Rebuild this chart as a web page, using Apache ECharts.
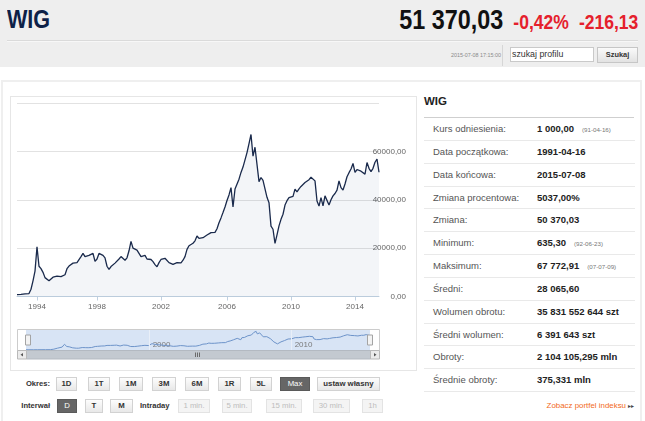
<!DOCTYPE html>
<html>
<head>
<meta charset="utf-8">
<script src="https://cdn.jsdelivr.net/npm/echarts@6/dist/echarts.min.js"></script>
<style>
html,body{margin:0;padding:0;background:#fff;}
body{width:645px;height:421px;overflow:hidden;position:relative;font-family:"Liberation Sans",Arial,sans-serif;color:#333;}
.a{position:absolute;white-space:nowrap;}
#hdr{left:0;top:0;width:645px;height:67px;background:#eeeeee;}
#title{left:7px;top:4px;font-size:26px;font-weight:bold;color:#0d2147;transform:scaleX(0.83);transform-origin:left top;}
#quote{right:7px;top:4px;transform:scaleX(0.835);transform-origin:right top;font-weight:bold;display:flex;align-items:baseline;}
#quote .p{font-size:28px;color:#111;}
#quote .r{font-size:21px;color:#e5202c;margin-left:12px;}
#sep{left:7px;top:40px;width:631px;height:0;border-top:1px solid #dadada;border-bottom:1px solid #f7f7f7;}
#dt{left:451px;top:52px;font-size:5.4px;color:#8a8a8a;}
#vsep{left:502px;top:45px;width:0;height:21px;border-left:1px solid #d6d6d6;}
#inp{left:510px;top:47px;width:84px;height:15px;box-sizing:border-box;background:#fff;border:1px solid #c9c9c9;font-size:8.8px;line-height:13px;padding-left:1px;color:#333;}
#sbtn{left:597px;top:47px;width:41px;height:16px;box-sizing:border-box;background:linear-gradient(#fafafa,#e2e2e2);border:1px solid #c6c6c6;font-size:7.4px;font-weight:bold;text-align:center;line-height:14px;color:#333;}
#panel{left:1px;top:80px;width:641px;height:360px;box-sizing:border-box;border:2px solid #efefef;}
#cbox{left:10px;top:96px;width:407px;height:275px;box-sizing:border-box;border:1px solid #e6e6e6;}
#chart{left:10px;top:96px;width:407px;height:275px;}
.lbl{font-size:7.6px;font-weight:bold;color:#333;}
.btn{height:14px;box-sizing:border-box;border:1px solid #d2d2d2;background:linear-gradient(#fdfdfd,#e8e8e8);font-size:7.8px;font-weight:bold;color:#333;text-align:center;line-height:12px;}
.on{background:#666;border-color:#5a5a5a;color:#fff;font-weight:normal;}
.dis{background:#f4f4f4;border-color:#e3e3e3;color:#bdbdbd;font-weight:normal;}
#wt{left:424px;top:95px;font-size:11.5px;font-weight:bold;color:#222;}
#wl{left:424px;top:117px;width:210px;border-top:1px solid #cfcfcf;}
#tbl{left:424px;top:118px;width:211px;}
.row{position:relative;height:22.85px;border-bottom:1px solid #e9e9e9;box-sizing:border-box;}
.row .k{position:absolute;left:9px;top:0;line-height:22px;font-size:9.5px;color:#555;}
.row .v{position:absolute;left:113px;top:0;line-height:22px;font-size:9.5px;font-weight:bold;color:#222;white-space:nowrap;}
.row .v small{font-size:6.2px;font-weight:normal;color:#777;margin-left:8px;}
#zob{right:11px;top:401px;font-size:7.9px;color:#f26a1b;}
#zob span{color:#444;font-size:6px;margin-left:2px;}
</style>
</head>
<body>
<div id="hdr" class="a"></div>
<div id="title" class="a">WIG</div>
<div id="quote" class="a"><span class="p">51 370,03</span><span class="r">-0,42%</span><span class="r">-216,13</span></div>
<div id="sep" class="a"></div>
<div id="dt" class="a">2015-07-08 17:15:00</div>
<div id="vsep" class="a"></div>
<div id="inp" class="a">szukaj profilu</div>
<div id="sbtn" class="a">Szukaj</div>
<div id="panel" class="a"></div>
<div id="cbox" class="a"></div>
<div id="chart" class="a"></div>

<div class="a lbl" style="left:18px;top:379px;width:32px;text-align:right;">Okres:</div>
<div class="a btn" style="left:56px;top:377px;width:21px;">1D</div>
<div class="a btn" style="left:88px;top:377px;width:22px;">1T</div>
<div class="a btn" style="left:119px;top:377px;width:24px;">1M</div>
<div class="a btn" style="left:152px;top:377px;width:24px;">3M</div>
<div class="a btn" style="left:185px;top:377px;width:24px;">6M</div>
<div class="a btn" style="left:218px;top:377px;width:23px;">1R</div>
<div class="a btn" style="left:250px;top:377px;width:22px;">5L</div>
<div class="a btn on" style="left:280px;top:377px;width:30px;">Max</div>
<div class="a btn" style="left:317px;top:377px;width:63px;">ustaw własny</div>

<div class="a lbl" style="left:14px;top:401px;width:36px;text-align:right;">Interwał</div>
<div class="a btn on" style="left:57px;top:399px;width:20px;">D</div>
<div class="a btn" style="left:85px;top:399px;width:18px;">T</div>
<div class="a btn" style="left:110px;top:399px;width:23px;">M</div>
<div class="a lbl" style="left:140px;top:401px;">Intraday</div>
<div class="a btn dis" style="left:178px;top:399px;width:32px;">1 min.</div>
<div class="a btn dis" style="left:222px;top:399px;width:30px;">5 min.</div>
<div class="a btn dis" style="left:266px;top:399px;width:36px;">15 min.</div>
<div class="a btn dis" style="left:313px;top:399px;width:37px;">30 min.</div>
<div class="a btn dis" style="left:362px;top:399px;width:21px;">1h</div>

<div id="wt" class="a">WIG</div>
<div id="wl" class="a"></div>
<div id="tbl" class="a">
  <div class="row"><span class="k">Kurs odniesienia:</span><span class="v">1 000,00<small>(91-04-16)</small></span></div>
  <div class="row"><span class="k">Data początkowa:</span><span class="v">1991-04-16</span></div>
  <div class="row"><span class="k">Data końcowa:</span><span class="v">2015-07-08</span></div>
  <div class="row"><span class="k">Zmiana procentowa:</span><span class="v">5037,00%</span></div>
  <div class="row"><span class="k">Zmiana:</span><span class="v">50 370,03</span></div>
  <div class="row"><span class="k">Minimum:</span><span class="v">635,30<small>(92-06-23)</small></span></div>
  <div class="row"><span class="k">Maksimum:</span><span class="v">67 772,91<small>(07-07-09)</small></span></div>
  <div class="row"><span class="k">Średni:</span><span class="v">28 065,60</span></div>
  <div class="row"><span class="k">Wolumen obrotu:</span><span class="v">35 831 552 644 szt</span></div>
  <div class="row"><span class="k">Średni wolumen:</span><span class="v">6 391 643 szt</span></div>
  <div class="row"><span class="k">Obroty:</span><span class="v">2 104 105,295 mln</span></div>
  <div class="row"><span class="k">Średnie obroty:</span><span class="v">375,331 mln</span></div>
</div>
<div id="zob" class="a">Zobacz portfel indeksu<span>&#9656;&#9656;</span></div>

<script>
// ---- data ----
const categories = [
 '1991-04','1991-07','1991-11','1992-02','1992-06','1992-09','1993-01','1993-04','1993-07','1993-11',
 '1994-01','1994-03','1994-05','1994-06','1994-08','1994-09','1994-11',
 '1995-01','1995-02','1995-04','1995-05','1995-07','1995-09','1995-10','1995-12',
 '1996-01','1996-03','1996-05','1996-06','1996-08','1996-09','1996-11',
 '1997-01','1997-02','1997-04','1997-05','1997-07','1997-09','1997-10','1997-12',
 '1998-01','1998-03','1998-04','1998-06','1998-07','1998-09','1998-10','1998-12',
 '1999-01','1999-03','1999-04','1999-06','1999-07','1999-09','1999-10','1999-12',
 '2000-01','2000-03','2000-04','2000-06','2000-07','2000-09','2000-10','2000-12',
 '2001-01','2001-03','2001-04','2001-06','2001-07','2001-09','2001-10','2001-12',
 '2002-01','2002-03','2002-04','2002-06','2002-07','2002-09','2002-10','2002-11',
 '2003-01','2003-02','2003-04','2003-05','2003-07','2003-08','2003-10','2003-11',
 '2004-01','2004-02','2004-03','2004-05','2004-06','2004-08','2004-09','2004-11','2004-12',
 '2005-02','2005-03','2005-05','2005-06','2005-07','2005-09','2005-10','2005-12',
 '2006-01','2006-03','2006-04','2006-06','2006-07','2006-09','2006-10','2006-12',
 '2007-01','2007-03','2007-04','2007-05','2007-07','2007-08','2007-10','2007-11',
 '2008-01','2008-02','2008-04','2008-05','2008-07','2008-08','2008-10','2008-11',
 '2009-01','2009-02','2009-04','2009-05','2009-07','2009-08','2009-10','2009-11',
 '2010-01','2010-02','2010-04','2010-05','2010-07','2010-08','2010-10','2010-11',
 '2011-01','2011-02','2011-04','2011-05','2011-07','2011-08','2011-10','2011-11',
 '2012-01','2012-02','2012-04','2012-05','2012-07','2012-09','2012-10','2012-12',
 '2013-01','2013-03','2013-04','2013-06','2013-07','2013-09','2013-10','2013-12',
 '2014-01','2014-03','2014-04','2014-06','2014-07','2014-09','2014-10','2014-12',
 '2015-01','2015-02','2015-04','2015-05','2015-07'
];
const wigValues = [
 800,850,900,1000,1100,1150,1200,3000,6500,10500,
 20500,12500,11500,10000,7800,7000,6500,6500,8000,8800,
 8400,8400,8200,7900,9000,11500,12600,13200,13800,14300,
 14000,14700,16500,17800,16500,16500,17000,17500,17800,14500,
 15500,17800,17800,17000,16000,12500,11200,12400,13000,13800,
 14600,15500,16500,16800,15000,16000,18900,22800,20000,19600,
 19200,18500,16500,17300,17000,15500,15000,15300,14400,13200,
 12300,14000,15300,15900,15800,15200,14000,13300,13300,13700,
 14000,13300,13900,15000,16500,19500,21000,21000,22000,23000,
 25000,24000,23700,24300,25000,25400,25900,26400,26200,26500,
 28000,30500,32500,34700,37000,39700,42000,45000,37000,44400,
 45000,48500,51300,53500,54000,59500,63200,67000,58000,61700,
 62000,47500,49200,48000,44500,41000,38800,29100,27800,22000,
 25500,29200,31900,34000,37800,39600,40900,40200,41400,44400,
 43300,44500,45500,46300,47100,47800,48300,49300,49800,47800,
 39500,37400,40900,37500,41600,40900,37800,40000,41600,42600,
 44000,47800,45000,44000,46500,49500,51200,52700,55000,51300,
 52500,51700,51800,52500,50600,55400,53000,51600,53000,55500,
 56800,51370
];
const xTickYears = ['1994','1998','2002','2006','2010','2014'];
const navTickYears = [2000, 2010];
const yMin = 0, yMax = 80000, yStep = 20000;
const startDate = '1991-04-16', endDate = '2015-07-08';

// ---- chart ----
const toYear = s => { const p = s.split('-'); return +p[0] + (+p[1] - 1) / 12 + ((p[2] ? +p[2] : 1) - 1) / 365; };
const isYearTick = (idx, val) => xTickYears.indexOf(val.slice(0, 4)) >= 0 && val.slice(5) === '01';
const navData = categories.map((c, i) => [toYear(c), wigValues[i]]);
navData[0] = [toYear(startDate), wigValues[0]];
navData[navData.length - 1] = [toYear(endDate), wigValues[wigValues.length - 1]];

const chart = echarts.init(document.getElementById('chart'), null, {renderer: 'canvas'});
chart.setOption({
  animation: false,
  textStyle: {fontFamily: 'Liberation Sans, Arial, sans-serif'},
  grid: [
    {left: 7, top: 7, width: 362, height: 193.5, outerBoundsMode: 'none'},
    {left: 16, top: 234, width: 344, height: 20, show: true, backgroundColor: '#d8e4f5', borderWidth: 0, outerBoundsMode: 'none'}
  ],
  xAxis: [
    {
      type: 'category', gridIndex: 0, data: categories, boundaryGap: false,
      axisLine: {lineStyle: {color: '#c0d0e0', width: 1}},
      axisTick: {show: true, interval: isYearTick, length: 4, lineStyle: {color: '#c0d0e0'}},
      axisLabel: {interval: isYearTick, formatter: v => v.slice(0, 4), color: '#666', fontSize: 8, margin: 6},
      splitLine: {show: false}
    },
    {
      type: 'value', gridIndex: 1, min: toYear(startDate), max: toYear(endDate),
      axisLine: {show: false}, axisTick: {show: false}, splitLine: {show: false},
      axisLabel: {show: true, inside: true, customValues: navTickYears,
        formatter: v => String(Math.round(v)),
        align: 'left', color: '#7a7a7a', fontSize: 8, margin: 1, padding: [0, 0, 0, 3]}
    }
  ],
  yAxis: [
    {
      type: 'value', gridIndex: 0, position: 'right', min: yMin, max: yMax, interval: yStep,
      axisLine: {show: false}, axisTick: {show: false},
      splitLine: {lineStyle: {color: '#e2e2e2', width: 1}},
      axisLabel: {showMaxLabel: false, align: 'right', margin: 27, color: '#666', fontSize: 8,
        padding: [0, 0, 7, 0], formatter: v => v.toFixed(2).replace('.', ',')}
    },
    {type: 'value', gridIndex: 1, min: 0, max: 72000, show: false}
  ],
  dataZoom: [{
    type: 'slider', xAxisIndex: 1, filterMode: 'none', left: 16, top: 234, width: 344, height: 20,
    start: 0, end: 100, showDetail: false, showDataShadow: false, brushSelect: false,
    moveHandleSize: 0, fillerColor: 'rgba(0,0,0,0)', borderColor: 'transparent', backgroundColor: 'transparent',
    handleIcon: 'path://M0,0L5,0L5,10L0,10Z', handleSize: 10,
    handleStyle: {color: '#f3f3f3', borderColor: '#a4a4a4', borderWidth: 1, shadowBlur: 0},
    emphasis: {handleStyle: {color: '#f3f3f3', borderColor: '#a4a4a4'}}
  }],
  series: [
    {
      type: 'line', xAxisIndex: 0, yAxisIndex: 0, data: wigValues, showSymbol: false, symbol: 'none',
      lineStyle: {color: '#1a2a4c', width: 1.3},
      areaStyle: {color: 'rgba(40,70,130,0.055)', opacity: 1},
      emphasis: {disabled: true}
    },
    {
      type: 'line', xAxisIndex: 1, yAxisIndex: 1, data: navData, showSymbol: false, symbol: 'none',
      lineStyle: {color: '#6d93c9', width: 1},
      emphasis: {disabled: true},
      markLine: {silent: true, symbol: 'none', label: {show: false},
        lineStyle: {color: '#e9eff8', width: 1, type: 'solid'},
        data: navTickYears.map(t => ({xAxis: t}))}
    }
  ],
  graphic: [
    {type: 'rect', silent: true, shape: {x: 7.5, y: 233.5, width: 362, height: 21}, style: {fill: 'none', stroke: '#cccccc', lineWidth: 1}, z: 100},
    {type: 'rect', silent: true, shape: {x: 16.5, y: 254.5, width: 344, height: 8.5}, style: {fill: '#c3c9d0', stroke: '#b3b9c1', lineWidth: 1}, z: 100},
    {type: 'rect', silent: true, shape: {x: 7.5, y: 254.5, width: 9, height: 8.5}, style: {fill: '#ebebeb', stroke: '#b9b9b9', lineWidth: 1}, z: 101},
    {type: 'rect', silent: true, shape: {x: 360.5, y: 254.5, width: 9, height: 8.5}, style: {fill: '#ebebeb', stroke: '#b9b9b9', lineWidth: 1}, z: 101},
    {type: 'polygon', silent: true, shape: {points: [[10.5, 258.7], [13, 257], [13, 260.4]]}, style: {fill: '#555'}, z: 102},
    {type: 'polygon', silent: true, shape: {points: [[366.5, 258.7], [364, 257], [364, 260.4]]}, style: {fill: '#555'}, z: 102},
    {type: 'line', silent: true, shape: {x1: 185.5, y1: 256.5, x2: 185.5, y2: 261}, style: {stroke: '#6a6a6a', lineWidth: 1}, z: 102},
    {type: 'line', silent: true, shape: {x1: 187.5, y1: 256.5, x2: 187.5, y2: 261}, style: {stroke: '#6a6a6a', lineWidth: 1}, z: 102},
    {type: 'line', silent: true, shape: {x1: 189.5, y1: 256.5, x2: 189.5, y2: 261}, style: {stroke: '#6a6a6a', lineWidth: 1}, z: 102}
  ]
});
</script>
</body>
</html>
